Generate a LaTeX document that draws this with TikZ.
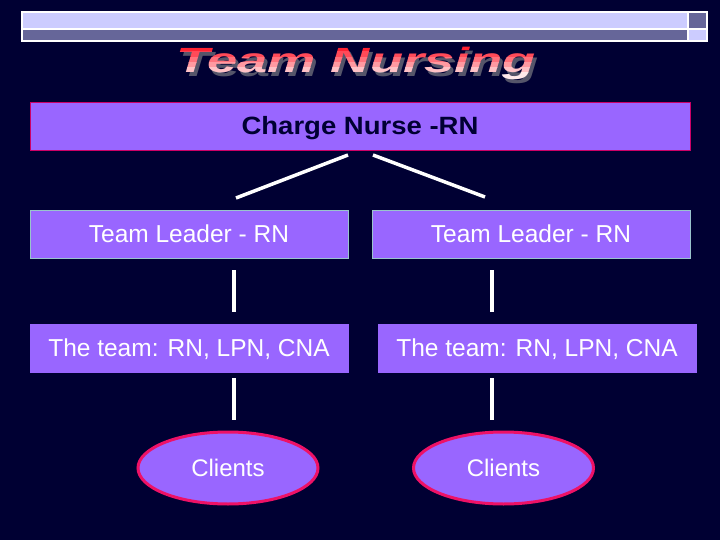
\documentclass[tikz,border=0pt]{standalone}
\usepackage{fontspec}
\setmainfont{Liberation Sans}
\usetikzlibrary{shapes.geometric}
\definecolor{bg}{HTML}{000033}
\definecolor{boxfill}{HTML}{9966FF}
\definecolor{barlight}{HTML}{CCCCFF}
\definecolor{bardark}{HTML}{666699}
\definecolor{cnborder}{HTML}{CC0066}
\definecolor{tlborder}{HTML}{99C4CC}
\definecolor{ellborder}{HTML}{EE1166}
\definecolor{titlered}{HTML}{FF2233}
\definecolor{shadowc}{HTML}{55556A}
\definecolor{cntext}{HTML}{000033}
\begin{document}
\begin{tikzpicture}[x=1pt,y=-1pt,
  box/.style={draw=#1, line width=0.8pt, fill=boxfill, minimum height=48pt, inner sep=0pt, text=white, text height=17.5pt, text depth=0pt, font=\fontsize{24.5}{24.5}\selectfont},
  link/.style={draw=white, line width=3.5pt},
  client/.style={ellipse, draw=ellborder, line width=3pt, fill=boxfill, minimum width=180pt, minimum height=72pt, inner sep=0pt, text=white, font=\fontsize{24}{24}\selectfont},
  titletext/.style={inner sep=0pt, anchor=base, font=\fontsize{35}{35}\selectfont\bfseries\itshape}]
\fill[bg] (0,0) rectangle (720,540);
\useasboundingbox (0,0) rectangle (720,540);
% top bar
\fill[barlight] (22,12) rectangle (688,29);
\fill[bardark] (688,12) rectangle (707,29);
\fill[bardark] (22,29) rectangle (688,41);
\fill[barlight] (688,29) rectangle (707,41);
\draw[white, line width=1.5pt] (22,12) rectangle (707,41);
\draw[white, line width=1.5pt] (22,29) -- (707,29) (688,12) -- (688,41);
% title: shadow, then the text in bands from red to near white
\node[titletext, text=shadowc] (titleshadow) at (359,77) {\scalebox{1.55}[1]{Team Nursing}};
\foreach \i/\yt/\yb in {0/40/52, 1/52/58, 2/58/63, 3/63/68, 4/68/73, 5/73/95} {
  \pgfmathsetmacro{\mix}{100-\i*18}
  \begin{scope}
    \clip (150,\yt) rectangle (570,\yb);
    \node[titletext, text=titlered!\mix!white] (title\i) at (356,73) {\scalebox{1.55}[1]{Team Nursing}};
  \end{scope}
}
% nodes
\node[box=cnborder, minimum width=660pt, text=cntext, text height=18pt, font=\fontsize{25}{25}\selectfont\bfseries] (cn) at (360,126) {\scalebox{1.1}[1]{Charge Nurse -RN}};
\node[box=tlborder, minimum width=318pt] (tl1) at (189,234) {Team Leader - RN};
\node[box=tlborder, minimum width=318pt] (tl2) at (531,234) {Team Leader - RN};
\node[box=boxfill, minimum width=318pt] (tm1) at (189,348) {The team: RN, LPN, CNA};
\node[box=boxfill, minimum width=318pt] (tm2) at (537,348) {The team: RN, LPN, CNA};
\node[client] (cl1) at (228,468) {Clients};
\node[client] (cl2) at (503.5,468) {Clients};
% connector ends
\coordinate (a1) at (348,155); \coordinate (b1) at (236,198);
\coordinate (a2) at (373,155); \coordinate (b2) at (485,197);
\coordinate (c1) at (234,270); \coordinate (d1) at (234,312);
\coordinate (c2) at (492,270); \coordinate (d2) at (492,312);
\coordinate (e1) at (234,378); \coordinate (f1) at (234,420);
\coordinate (e2) at (492,378); \coordinate (f2) at (492,420);
\draw[link] (a1) -- (b1);
\draw[link] (a2) -- (b2);
\draw[link] (c1) -- (d1);
\draw[link] (c2) -- (d2);
\draw[link] (e1) -- (f1);
\draw[link] (e2) -- (f2);
\end{tikzpicture}
\end{document}
